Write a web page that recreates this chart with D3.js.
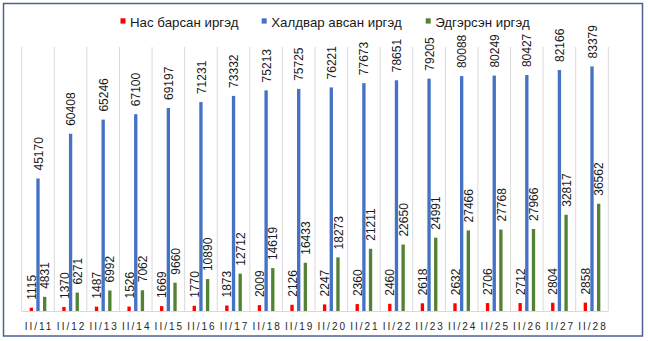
<!DOCTYPE html>
<html>
<head>
<meta charset="utf-8">
<script src="https://cdn.jsdelivr.net/npm/d3@7"></script>
<style>
  html, body { margin: 0; padding: 0; background: #ffffff; }
  svg { display: block; font-family: "Liberation Sans", Arial, sans-serif; }
</style>
</head>
<body>
<svg id="chart" width="648" height="341"></svg>
<script>
// Daily COVID-19 counts, 11–28 February
const dates = ["II/11","II/12","II/13","II/14","II/15","II/16","II/17","II/18","II/19",
               "II/20","II/21","II/22","II/23","II/24","II/25","II/26","II/27","II/28"];
const deaths = [1115,1370,1487,1526,1669,1770,1873,2009,2126,2247,2360,2460,2618,2632,2706,2712,2804,2858];
const confirmed = [45170,60408,65246,67100,69197,71231,73332,75213,75725,76221,77673,78651,79205,80088,80249,80427,82166,83379];
const recovered = [4831,6271,6992,7062,9660,10890,12712,14619,16433,18273,21211,22650,24991,27466,27768,27966,32817,36562];

const seriesNames = ["Нас барсан иргэд", "Халдвар авсан иргэд", "Эдгэрсэн иргэд"];
const seriesColors = ["#ff0000", "#4472c4", "#548235"];
const seriesValues = [deaths, confirmed, recovered];

const W = 648, H = 341;
const plot = { left: 21.7, right: 608.3, top: 47, bottom: 311 };

const svg = d3.select("#chart");

// outer frame
svg.append("rect")
  .attr("x", 3.5).attr("y", 3.5)
  .attr("width", 639).attr("height", 332.5)
  .attr("fill", "#ffffff")
  .attr("stroke", "#4e5f93")
  .attr("stroke-width", 1.5);

const x = d3.scaleBand().domain(dates).range([plot.left, plot.right]).paddingInner(0).paddingOuter(0);
const y = d3.scaleLinear().domain([0, 90000]).range([plot.bottom, plot.top]);

const bw = x.bandwidth();
const sub = d3.scaleBand()
  .domain(d3.range(seriesNames.length))
  .range([bw / 2 - 8.33, bw / 2 + 8.33])
  .paddingInner(0.5).paddingOuter(0);

// vertical gridlines between categories
const edges = dates.map(d => x(d)).concat([x(dates[dates.length - 1]) + bw]);
svg.append("g").selectAll("line").data(edges).join("line")
  .attr("x1", d => d).attr("x2", d => d)
  .attr("y1", plot.top).attr("y2", plot.bottom)
  .attr("stroke", "#d9d9d9").attr("stroke-width", 1);

// baseline
svg.append("line")
  .attr("x1", plot.left).attr("x2", plot.right)
  .attr("y1", plot.bottom + 0.5).attr("y2", plot.bottom + 0.5)
  .attr("stroke", "#d9d9d9").attr("stroke-width", 1);

// bars and their value labels
seriesValues.forEach((vals, si) => {
  const g = svg.append("g");
  const rows = dates.map((d, i) => ({ date: d, value: vals[i] }));
  g.selectAll("rect").data(rows).join("rect")
    .attr("x", d => x(d.date) + sub(si))
    .attr("y", d => y(d.value))
    .attr("width", sub.bandwidth())
    .attr("height", d => y(0) - y(d.value))
    .attr("fill", seriesColors[si]);

  g.selectAll("text").data(rows).join("text")
    .attr("transform", d => {
      const cx = x(d.date) + sub(si) + sub.bandwidth() / 2 + 0.6;
      const cy = y(d.value) - 8;
      return `translate(${cx},${cy}) rotate(-90)`;
    })
    .attr("text-anchor", "start")
    .attr("dominant-baseline", "central")
    .attr("font-size", 12)
    .attr("fill", "#1a1a1a")
    .text(d => d.value);
});

// category axis labels (letter-spaced, re-centred for the trailing gap)
const xAxis = d3.axisBottom(x).tickSize(0).tickPadding(0);
const ax = svg.append("g").attr("transform", `translate(0,${plot.bottom})`).call(xAxis);
ax.select(".domain").remove();
ax.selectAll("text")
  .attr("x", 1)
  .attr("y", 18.5)
  .attr("dy", 0)
  .attr("font-size", 10)
  .attr("letter-spacing", "2px")
  .attr("fill", "#262626")
  .style("font-family", "'Liberation Sans', Arial, sans-serif");

// legend
const legendX = [120.5, 261.7, 425.7];
const lg = svg.append("g");
seriesNames.forEach((name, i) => {
  lg.append("rect")
    .attr("x", legendX[i]).attr("y", 18.3)
    .attr("width", 5).attr("height", 5.3)
    .attr("fill", seriesColors[i]);
  lg.append("text")
    .attr("x", legendX[i] + 9.5).attr("y", 27.3)
    .attr("font-size", 13.3)
    .attr("fill", "#1a1a1a")
    .text(name);
});
</script>
</body>
</html>
